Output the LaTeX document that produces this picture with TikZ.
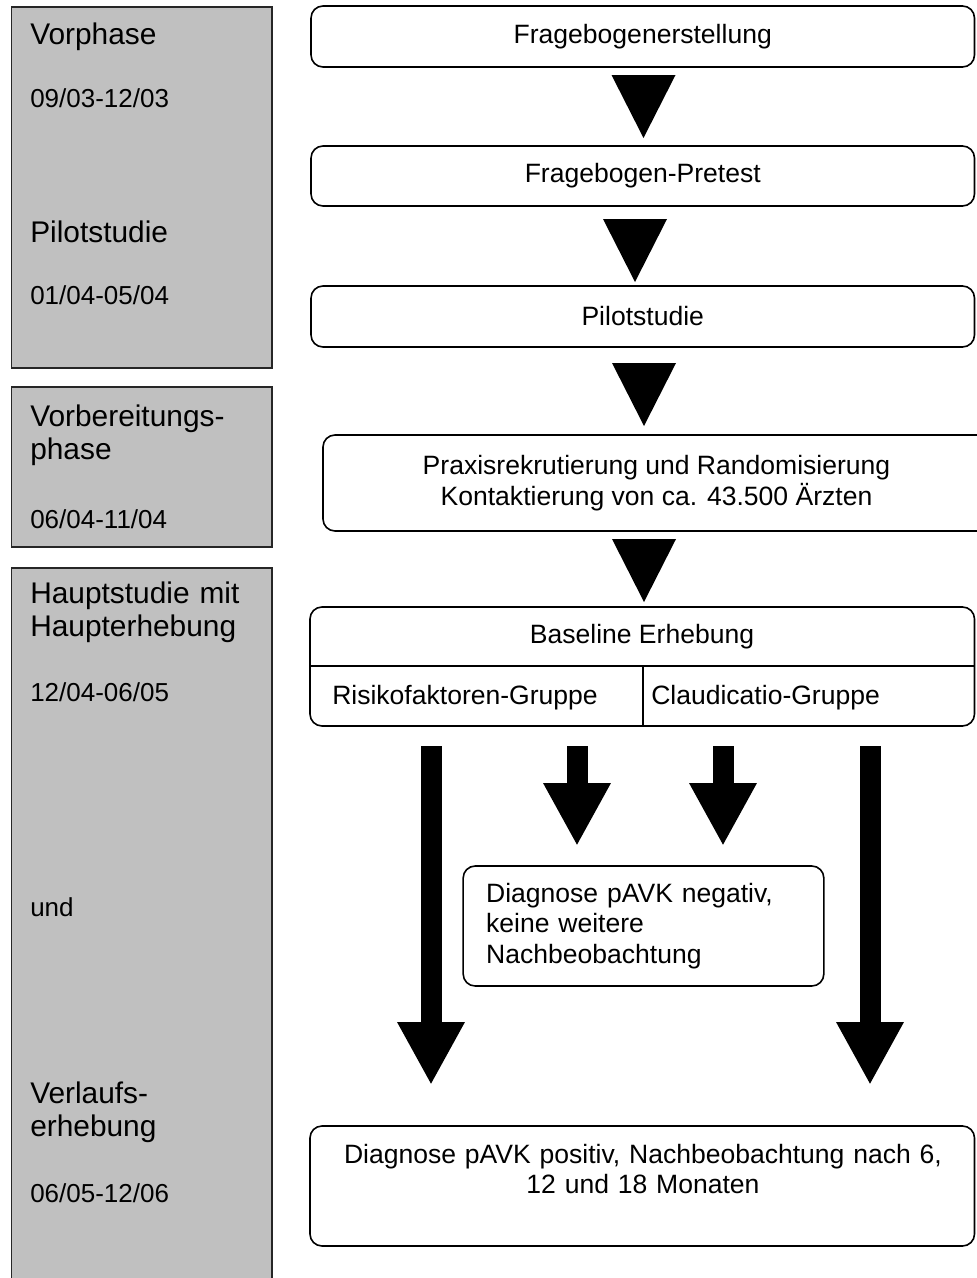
\documentclass[tikz,border=0pt]{standalone}
\usepackage{fontspec}
\setmainfont{Liberation Sans}
\usetikzlibrary{calc,positioning,arrows.meta}

\definecolor{phasegray}{HTML}{C0C0C0}
\newcommand{\flowfont}{\fontsize{19.9}{22.8}\selectfont}
\newcommand{\titlefont}{\fontsize{22.4}{25.3}\selectfont}
\newcommand{\datefont}{\fontsize{19.5}{22}\selectfont}

\tikzset{
  phase/.style={draw=black!85, fill=phasegray, line width=1.3pt, inner sep=0pt, anchor=north west},
  flow/.style={draw, rounded corners=9pt, line width=1.2pt, inner sep=0pt, align=center, font=\flowfont},
  label/.style={inner sep=0pt, font=\flowfont},
  ptitle/.style={anchor=base west, inner sep=0pt, align=left, text width=190pt, font=\titlefont},
  pdate/.style={anchor=base west, inner sep=0pt, font=\datefont},
  fat/.style={line width=15.75pt, -{Triangle[width=47.25pt,length=47.25pt]}}
}

\begin{document}
\begin{tikzpicture}[x=0.75pt, y=-0.75pt]
\useasboundingbox (0,0) rectangle (976,1278);

% phases (left column)
\node[phase, minimum width=195.4pt, minimum height=270.75pt] (ph1) at (10.5,6) {};
\node[phase, minimum width=195.4pt, minimum height=120pt] (ph2) at (10.5,386) {};
\node[phase, minimum width=195.4pt, minimum height=542.25pt] (ph3) at (10.5,567) {};

\node[ptitle] (vor) at (30,44) {Vorphase};
\node[pdate] (d1) at (30,107) {09/03-12/03};
\node[ptitle] (pil) at (30,242) {Pilotstudie};
\node[pdate] (d2) at (30,304) {01/04-05/04};
\node[ptitle] (vbp) at (30,426) {Vorbereitungs-\\phase};
\node[pdate] (d3) at (30,528) {06/04-11/04};
\node[ptitle] (hs) at (30,603) {Hauptstudie mit\\Haupterhebung};
\node[pdate] (d4) at (30,701) {12/04-06/05};
\node[pdate] (und) at (30,916) {und};
\node[ptitle] (ve) at (30,1103) {Verlaufs-\\erhebung};
\node[pdate] (d5) at (30,1202) {06/05-12/06};

% flow
\node[flow, minimum width=497.6pt, minimum height=45.75pt] (frage) at (642.75,36.5) {Fragebogenerstellung};
\node[flow, minimum width=497.6pt, minimum height=45pt] (pretest) at (642.75,176) {Fragebogen-Pretest};
\node[flow, minimum width=497.6pt, minimum height=45.75pt] (pilot) at (642.75,316.5) {Pilotstudie};
\node[flow, minimum width=500.25pt, minimum height=72pt] (praxis) at (656.5,483) {Praxisrekrutierung und Randomisierung\\Kontaktierung von ca. 43.500 Ärzten};

\node[flow, minimum width=498.4pt, minimum height=89.25pt] (base) at (642.25,666.5) {};
\coordinate (split) at (643,666);
\draw[line width=1.2pt] (base.west |- split) -- (base.east |- split);
\draw[line width=1.2pt] (split) -- (split |- base.south);
\node[label, anchor=base] (bl) at (642,643) {Baseline Erhebung};
\node[label, anchor=base west] (risk) at (332,704) {Risikofaktoren-Gruppe};
\node[label, anchor=base west] (claud) at (651,704) {Claudicatio-Gruppe};

\node[flow, align=left, text width=236pt, inner xsep=17.25pt, minimum height=90pt] (neg) at (643.5,926) {Diagnose pAVK negativ,\\keine weitere\\Nachbeobachtung};

\node[flow, minimum width=498.4pt, minimum height=90pt] (pos) at (642.25,1186) {};
\node[label, align=center, text width=480pt, anchor=base] (postext) at (643,1163) {Diagnose pAVK positiv, Nachbeobachtung nach 6,\\12 und 18 Monaten};

% arrows
\foreach \x/\y in {643.5/75, 635/219, 644/363, 644/539}
  \fill (\x-32,\y) -- (\x+32,\y) -- (\x,\y+63) -- cycle;
\foreach \x/\t in {431/1085, 870/1085, 577/846, 723/846}
  \draw[fat] (\x,746) -- (\x,\t);

\end{tikzpicture}
\end{document}
